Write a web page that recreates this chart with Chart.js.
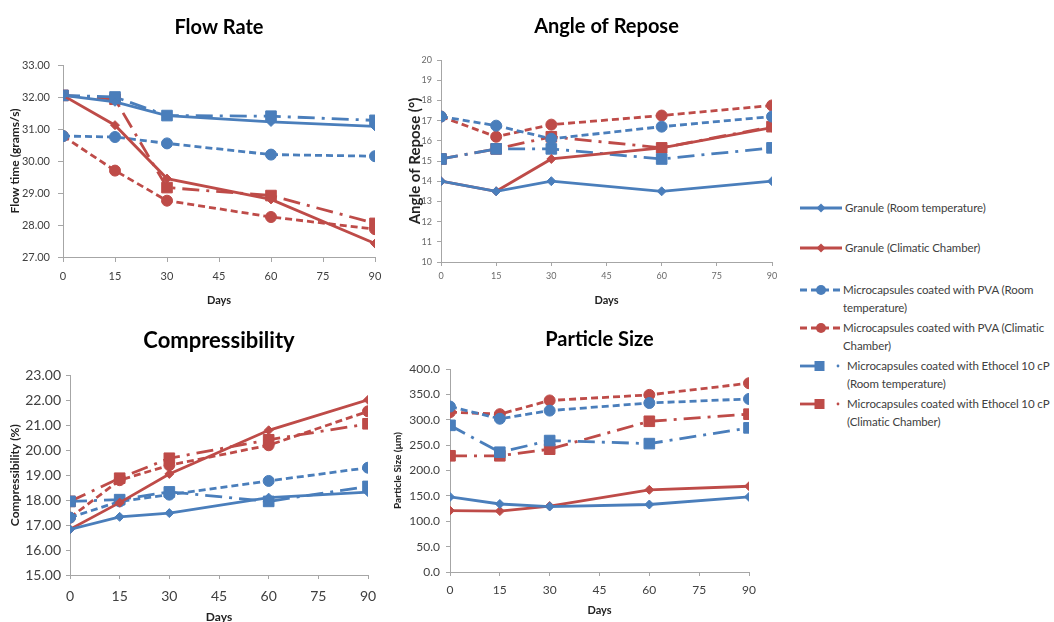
<!DOCTYPE html>
<html>
<head>
<meta charset="utf-8">
<script src="https://cdn.jsdelivr.net/npm/chart.js@4.4.1/dist/chart.umd.min.js"></script>
<style>
html,body{margin:0;padding:0;background:#fff;}
body{width:1054px;height:622px;overflow:hidden;position:relative;font-family:Lato,"Open Sans",sans-serif;}
canvas{position:absolute;}
.li{position:absolute;white-space:nowrap;font-size:11.5px;line-height:18px;color:#404040;letter-spacing:-0.1px;}
.sym{position:absolute;left:798px;}
</style>
</head>
<body>
<canvas id="cFR" width="400" height="312" style="left:0px;top:0px"></canvas>
<canvas id="cAR" width="395" height="312" style="left:400px;top:0px"></canvas>
<canvas id="cCO" width="400" height="316" style="left:0px;top:310px"></canvas>
<canvas id="cPS" width="400" height="316" style="left:385px;top:310px"></canvas>
<div id="legend"></div>
<script>
// ---------- data ----------
const days = [0, 15, 30, 60, 90];
const seriesNames = [
  'Granule (Room temperature)',
  'Granule (Climatic Chamber)',
  'Microcapsules coated with PVA (Room temperature)',
  'Microcapsules coated with PVA (Climatic Chamber)',
  'Microcapsules coated with Ethocel 10 cP (Room temperature)',
  'Microcapsules coated with Ethocel 10 cP (Climatic Chamber)'
];
const legendLines = [
  ['Granule (Room temperature)'],
  ['Granule (Climatic Chamber)'],
  ['Microcapsules coated with PVA (Room', 'temperature)'],
  ['Microcapsules coated with PVA (Climatic', 'Chamber)'],
  ['Microcapsules coated with Ethocel 10 cP', '(Room temperature)'],
  ['Microcapsules coated with Ethocel 10 cP', '(Climatic Chamber)']
];
const chartTitles = ['Flow Rate', 'Angle of Repose', 'Compressibility', 'Particle Size'];
const axisTitles = ['Flow time (grams/s)', 'Angle of Repose (°)', 'Compressibility (%)', 'Particle Size (µm)'];
const xTitle = 'Days';

// Flow Rate
const flowGranuleRT = [32.05, 31.85, 31.42, 31.22, 31.08];
const flowGranuleCC = [32.05, 31.12, 29.45, 28.80, 27.42];
const flowPvaRT     = [30.78, 30.75, 30.55, 30.20, 30.15];
const flowPvaCC     = [30.78, 29.70, 28.76, 28.25, 27.87];
const flowEthRT     = [32.05, 32.00, 31.42, 31.40, 31.27];
const flowEthCC     = [32.05, 31.93, 29.17, 28.92, 28.05];

// Angle of Repose
const angleGranuleRT = [14.0, 13.5, 14.0, 13.5, 14.0];
const angleGranuleCC = [14.0, 13.5, 15.1, 15.65, 16.65];
const anglePvaRT     = [17.2, 16.75, 16.1, 16.7, 17.2];
const anglePvaCC     = [17.2, 16.2, 16.8, 17.25, 17.75];
const angleEthRT     = [15.1, 15.6, 15.6, 15.1, 15.65];
const angleEthCC     = [15.1, 15.6, 16.2, 15.65, 16.7];

// Compressibility
const compGranuleRT = [16.83, 17.33, 17.48, 18.10, 18.32];
const compGranuleCC = [16.83, 17.90, 19.05, 20.80, 22.02];
const compPvaRT     = [17.30, 17.95, 18.22, 18.77, 19.30];
const compPvaCC     = [17.30, 18.80, 19.40, 20.20, 21.56];
const compEthRT     = [17.95, 18.02, 18.33, 17.95, 18.55];
const compEthCC     = [17.95, 18.88, 19.68, 20.42, 21.06];

// Particle Size
const sizeGranuleRT = [148, 134, 129, 133, 148];
const sizeGranuleCC = [121, 120, 130, 162, 169];
const sizePvaRT     = [326, 302, 318, 333, 341];
const sizePvaCC     = [315, 311, 338, 349, 372];
const sizeEthRT     = [289, 236, 259, 253, 284];
const sizeEthCC     = [229, 229, 242, 297, 311];

// ---------- styles ----------
const BLUE = '#4A7EBB', RED = '#BE4B48';
const FONT = 'Lato, "Open Sans", sans-serif';
const AX = '#A6A6A6';
const styles = [
  {c: BLUE, dash: [], pt: 'rectRot', r: 4.5},
  {c: RED,  dash: [], pt: 'rectRot', r: 4.5},
  {c: BLUE, dash: [7, 4], pt: 'circle', r: 5.5},
  {c: RED,  dash: [7, 4], pt: 'circle', r: 5.5},
  {c: BLUE, dash: [17, 7, 3, 7], pt: 'rect', r: 7.5},
  {c: RED,  dash: [17, 7, 3, 7], pt: 'rect', r: 7.5}
];
Chart.defaults.font.family = FONT;

function ds(i, vals) {
  const s = styles[i];
  return {
    label: seriesNames[i],
    data: days.map((d, k) => ({x: d, y: vals[k]})),
    borderColor: s.c, backgroundColor: s.c,
    borderWidth: 2.8, borderDash: s.dash,
    pointStyle: s.pt, pointRadius: s.r, pointBorderWidth: 1,
    pointBackgroundColor: s.c, pointBorderColor: s.c,
    tension: 0, fill: false
  };
}

function makeChart(id, p, series) {
  return new Chart(document.getElementById(id), {
    type: 'line',
    data: {datasets: series.map((v, i) => ds(i, v))},
    options: {
      responsive: false, animation: false, devicePixelRatio: 1,
      layout: {padding: {left: 0, right: p.padR, top: 0, bottom: 0}},
      plugins: {
        legend: {display: false}, tooltip: {enabled: false},
        title: {display: true, text: p.title, fullSize: false, color: '#000',
          font: {size: p.titleSize, weight: 'bold', lineHeight: 1.2},
          padding: {top: p.titleTop, bottom: p.titleBottom}}
      },
      scales: {
        x: {
          type: 'linear', min: 0, max: 90,
          ticks: {stepSize: 15, autoSkip: false, maxRotation: 0, color: p.tickColor,
            font: {size: p.xTickSize}, padding: p.xTickPad},
          grid: {drawOnChartArea: false, drawTicks: true, tickLength: p.tickLen, color: AX},
          border: {display: true, color: AX, width: 1},
          title: {display: true, text: xTitle, color: '#222',
            font: {size: p.xTitleSize, weight: 'bold', lineHeight: 1.2},
            padding: {top: 0, bottom: p.xTitlePadB}},
          afterFit: (s) => { s.height = p.xH; }
        },
        y: {
          type: 'linear', min: p.yMin, max: p.yMax,
          ticks: {stepSize: p.yStep, color: p.tickColor, font: {size: p.yTickSize}, padding: p.yTickPad,
            callback: (v) => Number(v).toFixed(p.dec)},
          grid: {drawOnChartArea: false, drawTicks: true, tickLength: p.tickLen, color: AX},
          border: {display: true, color: AX, width: 1},
          title: {display: true, text: p.yTitle, color: '#222',
            font: {size: p.yTitleSize, weight: 'bold', lineHeight: 1.2},
            padding: {top: p.yTitlePadT, bottom: 0}},
          afterFit: (s) => { s.width = p.yW; }
        }
      }
    }
  });
}

makeChart('cFR', {
  title: chartTitles[0], titleSize: 20, titleTop: 16, titleBottom: 25,
  padR: 25, yW: 63, xH: 55, tickLen: 5,
  yMin: 27, yMax: 33, yStep: 1, dec: 2, yTickSize: 11, yTickPad: 8,
  xTickSize: 11, xTickPad: 8, tickColor: '#404040',
  xTitleSize: 11, xTitlePadB: 5,
  yTitle: axisTitles[0], yTitleSize: 12, yTitlePadT: 8
}, [flowGranuleRT, flowGranuleCC, flowPvaRT, flowPvaCC, flowEthRT, flowEthCC]);

makeChart('cAR', {
  title: chartTitles[1], titleSize: 20, titleTop: 15, titleBottom: 21,
  padR: 23, yW: 41, xH: 50, tickLen: 4,
  yMin: 10, yMax: 20, yStep: 1, dec: 0, yTickSize: 9, yTickPad: 5,
  xTickSize: 9, xTickPad: 5, tickColor: '#6a6a6a',
  xTitleSize: 11, xTitlePadB: 5,
  yTitle: axisTitles[1], yTitleSize: 15, yTitlePadT: 6
}, [angleGranuleRT, angleGranuleCC, anglePvaRT, anglePvaCC, angleEthRT, angleEthCC]);

makeChart('cCO', {
  title: chartTitles[2], titleSize: 22, titleTop: 18, titleBottom: 21,
  padR: 32, yW: 70, xH: 51, tickLen: 4,
  yMin: 15, yMax: 23, yStep: 1, dec: 2, yTickSize: 14, yTickPad: 5,
  xTickSize: 14, xTickPad: 9, tickColor: '#404040',
  xTitleSize: 12, xTitlePadB: 2,
  yTitle: axisTitles[2], yTitleSize: 12, yTitlePadT: 8
}, [compGranuleRT, compGranuleCC, compPvaRT, compPvaCC, compEthRT, compEthCC]);

makeChart('cPS', {
  title: chartTitles[3], titleSize: 20, titleTop: 18, titleBottom: 17,
  padR: 36, yW: 65, xH: 54, tickLen: 4,
  yMin: 0, yMax: 400, yStep: 50, dec: 1, yTickSize: 12, yTickPad: 6,
  xTickSize: 12, xTickPad: 7, tickColor: '#404040',
  xTitleSize: 11, xTitlePadB: 9,
  yTitle: axisTitles[3], yTitleSize: 10, yTitlePadT: 7
}, [sizeGranuleRT, sizeGranuleCC, sizePvaRT, sizePvaCC, sizeEthRT, sizeEthCC]);

// ---------- legend (HTML text + small SVG keys) ----------
const legendY = [208, 248, 290, 328, 366, 404];
const legendTextX = [845, 845, 843, 843, 847, 847];
const lg = document.getElementById('legend');
function symbolSVG(i) {
  const s = styles[i];
  let inner = '';
  if (i < 2) {
    inner = `<line x1="2" y1="7" x2="44" y2="7" stroke="${s.c}" stroke-width="2.8"/>` +
            `<polygon points="23,2.5 27.5,7 23,11.5 18.5,7" fill="${s.c}"/>`;
  } else if (i < 4) {
    inner = `<line x1="2" y1="7" x2="44" y2="7" stroke="${s.c}" stroke-width="2.8" stroke-dasharray="7,4"/>` +
            `<circle cx="23" cy="7" r="5" fill="${s.c}"/>`;
  } else {
    inner = `<line x1="2" y1="7" x2="22" y2="7" stroke="${s.c}" stroke-width="2.8"/>` +
            `<rect x="16.5" y="2" width="10" height="10" fill="${s.c}"/>` +
            `<circle cx="40" cy="7" r="1.4" fill="${s.c}"/>`;
  }
  return `<svg class="sym" width="48" height="14" style="top:${legendY[i]-7}px">${inner}</svg>`;
}
let html = '';
for (let i = 0; i < 6; i++) {
  html += symbolSVG(i);
  html += `<div class="li" style="left:${legendTextX[i]}px;top:${legendY[i]-9}px">${legendLines[i].join('<br>')}</div>`;
}
lg.innerHTML = html;
</script>
</body>
</html>
